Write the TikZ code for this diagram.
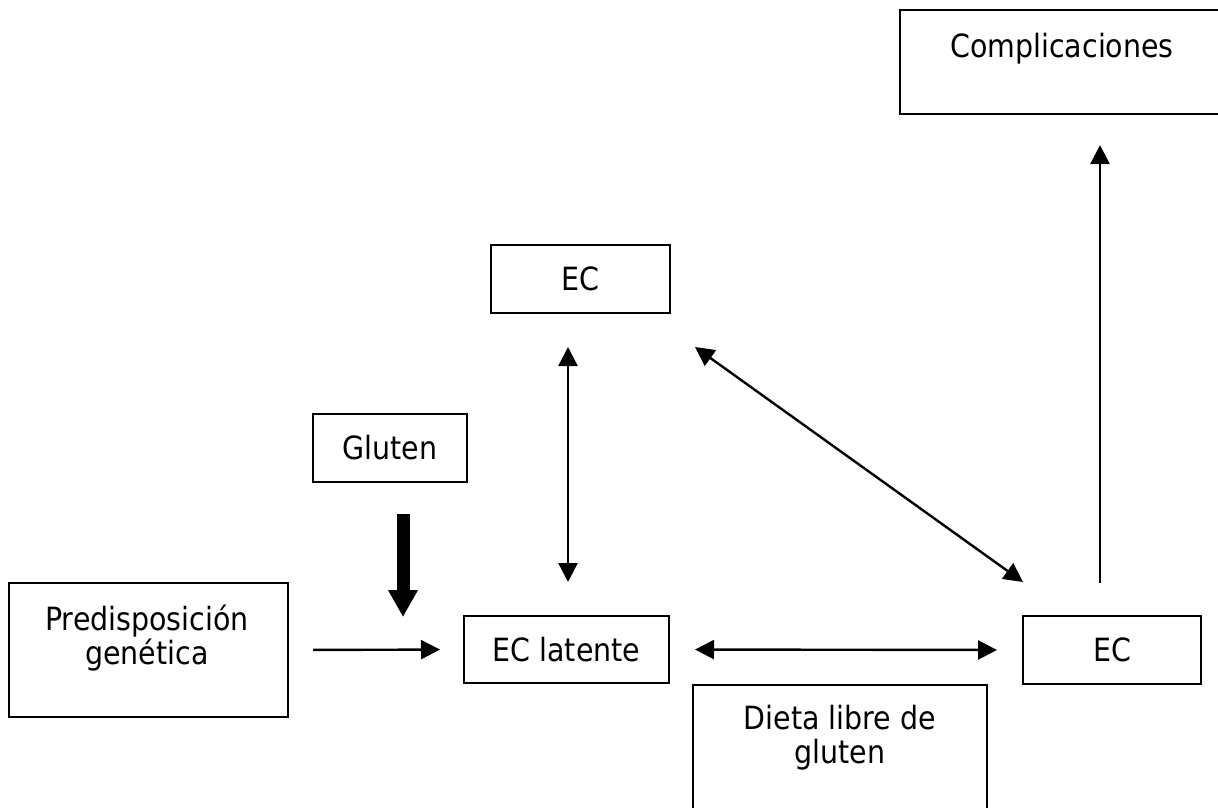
\documentclass[tikz,border=0pt]{standalone}
\usepackage{fontspec}
\setmainfont{DejaVu Sans}[FakeStretch=0.89]
\usetikzlibrary{arrows.meta}
\begin{document}
\begin{tikzpicture}[x=1pt,y=-1pt,
  box/.style={draw, line width=2.8pt, rectangle, outer sep=0pt, inner sep=0pt},
  txt/.style={font={\fontsize{32}{34}\selectfont}, inner sep=0pt, outer sep=0pt, align=center},
  thinarrow/.style={line width=2.4pt, -{Triangle[length=19pt,width=19pt]}},
  dblarrow/.style={line width=2.4pt, {Triangle[length=19pt,width=19pt]}-{Triangle[length=19pt,width=19pt]}},
  heavyarrow/.style={line width=13pt, -{Triangle[length=27pt,width=28pt]}}]
\useasboundingbox (0,0) rectangle (1218,807);

% boxes
\node[box, minimum width=324pt, minimum height=104pt] (comp) at (1062,62) {};
\node[txt, anchor=base] (compt) at (1062,57) {Complicaciones};

\node[box, txt, minimum width=179pt, minimum height=68pt] (ectop) at (580.5,279) {EC};
\node[box, txt, minimum width=154pt, minimum height=68pt] (glu) at (390,448) {Gluten};

\node[box, minimum width=279pt, minimum height=134pt] (pred) at (148.5,650) {};
\node[txt, anchor=base] (predt) at (147,664) {Predisposición\\genética};

\node[box, txt, minimum width=205pt, minimum height=67pt] (ecl) at (566.5,649.5) {EC latente};
\node[box, txt, minimum width=178pt, minimum height=68pt] (ecr) at (1112,650) {EC};

\node[box, minimum width=294pt, minimum height=170pt] (dieta) at (840,770) {};
\node[txt, anchor=base] (dietat) at (840,763) {Dieta libre de\\gluten};

% free arrow ends
\coordinate (g1) at (403,514); \coordinate (g2) at (403,617);
\coordinate (v1) at (568,347); \coordinate (v2) at (568,582);
\coordinate (d1) at (695,347); \coordinate (d2) at (1023,582);
\coordinate (u1) at (1100,583); \coordinate (u2) at (1100,145);

% connectors
\draw[thinarrow, shorten <=25pt, shorten >=24pt] (pred.east) -- (ecl.west);
\draw[heavyarrow] (g1) -- (g2);
\draw[dblarrow] (v1) -- (v2);
\draw[dblarrow] (d1) -- (d2);
\draw[dblarrow, shorten <=26pt, shorten >=26pt] (ecl.east) -- (ecr.west);
\draw[thinarrow] (u1) -- (u2);
\end{tikzpicture}
\end{document}
